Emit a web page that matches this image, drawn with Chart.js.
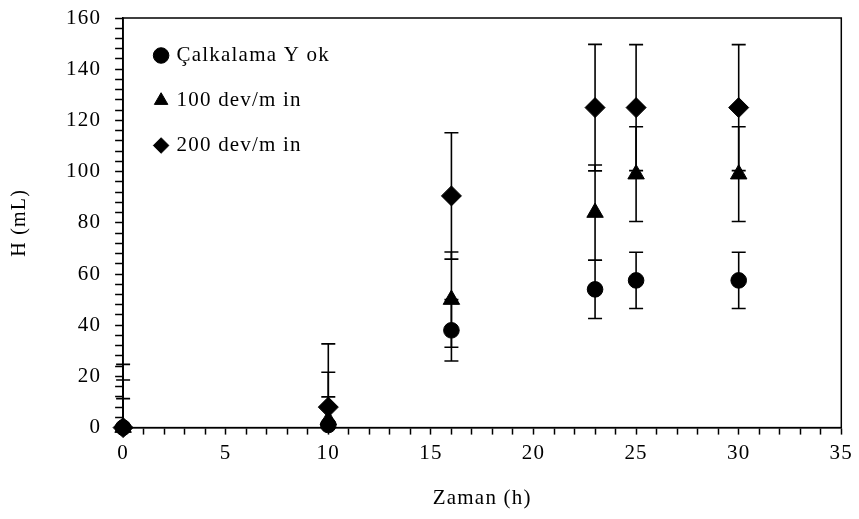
<!DOCTYPE html>
<html lang="tr">
<head>
  <meta charset="UTF-8" />
  <title>H (mL) - Zaman (h)</title>
  <script src="https://cdn.jsdelivr.net/npm/chart.js"></script>
  <style>
    html, body { margin: 0; padding: 0; background: #fff; }
    #wrap { width: 859px; height: 519px; }
  </style>
</head>
<body>
  <div id="wrap"><canvas id="chart"></canvas></div>
  <script>
    // zaman (h)
    const times = [0, 10, 16, 23, 25, 30];

    // H (mL) ve hata cubuklari
    const yokVals = [0, 1, 38, 54, 57.5, 57.5];
    const yokErr = [11.3, 11, 12, 11.4, 11, 11];
    const dev100Vals = [0, 3, 50, 84, 99, 99];
    const dev100Err = [18.6, 18.6, 18.6, 18.6, 18.5, 18.5];
    const dev200Vals = [0, 8, 90.5, 125, 125, 125];
    const dev200Err = [24.7, 24.7, 24.7, 24.7, 24.6, 24.6];

    const seriesNames = ['Çalkalama Y ok', '100 dev/m in', '200 dev/m in'];

    const xTickLabels = ['0', '5', '10', '15', '20', '25', '30', '35'];
    const yTickLabels = ['0', '20', '40', '60', '80', '100', '120', '140', '160'];

    const FONT = "'Liberation Serif', 'Times New Roman', serif";

    function pts(vals, errs) {
      return times.map((t, i) => ({ x: t, y: vals[i], err: errs[i] }));
    }

    // harf araligi (orijinaldeki genis yazi)
    const spacing = {
      id: 'spacing',
      beforeInit(chart) { chart.ctx.letterSpacing = '1.2px'; },
      beforeUpdate(chart) { chart.ctx.letterSpacing = '1.2px'; },
      beforeDraw(chart) { chart.ctx.letterSpacing = '1.2px'; }
    };

    // legend grafik alaninin icinde, biraz asagida
    const legendShift = {
      id: 'legendShift',
      afterLayout(chart) {
        if (chart.legend) {
          chart.legend.top += 21;
          chart.legend.left += 9;
        }
      }
    };

    // hata cubuklari
    const errorBars = {
      id: 'errorBars',
      afterDatasetsDraw(chart) {
        const ctx = chart.ctx;
        const ys = chart.scales.y;
        const a = chart.chartArea;
        ctx.save();
        ctx.beginPath();
        ctx.rect(a.left - 12, a.top, a.right - a.left + 24, a.bottom - a.top);
        ctx.clip();
        ctx.strokeStyle = '#000';
        ctx.lineWidth = 1.6;
        chart.data.datasets.forEach((ds, di) => {
          const meta = chart.getDatasetMeta(di);
          meta.data.forEach((el, i) => {
            const p = ds.data[i];
            const x = el.x;
            const top = ys.getPixelForValue(p.y + p.err);
            const bot = ys.getPixelForValue(p.y - p.err);
            ctx.beginPath();
            ctx.moveTo(x, top); ctx.lineTo(x, bot);
            ctx.moveTo(x - 7, top); ctx.lineTo(x + 7, top);
            ctx.moveTo(x - 7, bot); ctx.lineTo(x + 7, bot);
            ctx.stroke();
          });
        });
        ctx.restore();
      }
    };

    // cerceve
    const frame = {
      id: 'frame',
      beforeDatasetsDraw(chart) {
        const a = chart.chartArea;
        const ctx = chart.ctx;
        ctx.save();
        ctx.strokeStyle = '#000';
        ctx.lineWidth = 1.5;
        ctx.strokeRect(a.left, a.top, a.right - a.left, a.bottom - a.top);
        ctx.restore();
      }
    };

    function dataset(label, vals, errs, style, r) {
      return {
        label: label,
        data: pts(vals, errs),
        showLine: false,
        pointStyle: style,
        pointRadius: r,
        pointHoverRadius: r,
        backgroundColor: '#000',
        borderColor: '#000',
        borderWidth: 1,
        clip: false
      };
    }

    new Chart(document.getElementById('chart'), {
      type: 'scatter',
      data: {
        datasets: [
          dataset(seriesNames[0], yokVals, yokErr, 'circle', 7.8),
          dataset(seriesNames[1], dev100Vals, dev100Err, 'triangle', 9.5),
          dataset(seriesNames[2], dev200Vals, dev200Err, 'rectRot', 10)
        ]
      },
      options: {
        responsive: true,
        maintainAspectRatio: false,
        animation: false,
        events: [],
        layout: { padding: { top: 18, right: 15, bottom: 8, left: 8 } },
        plugins: {
          tooltip: { enabled: false },
          legend: {
            position: 'chartArea',
            align: 'start',
            labels: {
              usePointStyle: true,
              boxHeight: 11,
              boxWidth: 10,
              padding: 24,
              color: '#000',
              font: { family: FONT, size: 21 }
            }
          }
        },
        scales: {
          x: {
            type: 'linear',
            min: 0,
            max: 35,
            afterBuildTicks(scale) {
              const t = [];
              for (let v = 0; v <= 35; v++) t.push({ value: v });
              scale.ticks = t;
            },
            ticks: {
              autoSkip: false,
              maxRotation: 0,
              padding: 6,
              color: '#000',
              font: { family: FONT, size: 21 },
              callback: (v) => (v % 5 === 0 ? xTickLabels[v / 5] : '')
            },
            grid: {
              drawOnChartArea: false,
              drawTicks: true,
              tickLength: 7,
              tickColor: '#000',
              tickWidth: 1.5
            },
            border: { color: '#000', width: 1.5 },
            title: {
              display: true,
              text: 'Zaman (h)',
              color: '#000',
              font: { family: FONT, size: 21 },
              padding: { top: 14, bottom: 0 }
            }
          },
          y: {
            type: 'linear',
            min: 0,
            max: 160,
            afterBuildTicks(scale) {
              const t = [];
              for (let v = 0; v <= 160; v += 4) t.push({ value: v });
              scale.ticks = t;
            },
            afterFit(scale) {
              scale.paddingTop = 0;
            },
            ticks: {
              autoSkip: false,
              padding: 14,
              color: '#000',
              font: { family: FONT, size: 21 },
              callback: (v) => (v % 20 === 0 ? yTickLabels[v / 20] : '')
            },
            grid: {
              drawOnChartArea: false,
              drawTicks: true,
              tickLength: 8,
              tickColor: '#000',
              tickWidth: 1.5
            },
            border: { color: '#000', width: 1.5 },
            title: {
              display: true,
              text: 'H (mL)',
              color: '#000',
              font: { family: FONT, size: 20 },
              padding: { top: 0, bottom: 20 }
            }
          }
        }
      },
      plugins: [spacing, legendShift, frame, errorBars]
    });
  </script>
</body>
</html>
